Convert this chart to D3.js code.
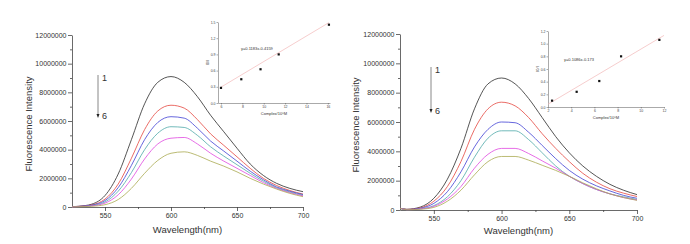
<!DOCTYPE html>
<html>
<head>
<meta charset="utf-8">
<script src="https://cdnjs.cloudflare.com/ajax/libs/d3/7.8.5/d3.min.js"></script>
<style>
  body { margin: 0; background: #fff; }
  svg { display: block; font-family: "Liberation Sans", Arial, sans-serif; }
</style>
</head>
<body>
<div id="viz"></div>
<script>
// wavelengths (nm) shared by every spectrum
const wavelengths = [525, 530, 540, 550, 560, 570, 580, 590, 600, 610, 620, 630, 640, 650, 660, 670, 680, 690, 700];

// left panel spectra, intensity in millions
const leftSpectra = [
  [0.02, 0.05, 0.2, 0.8, 2.3, 4.7, 7.2, 8.7, 9.1, 8.7, 7.7, 6.4, 5.25, 4.1, 3.0, 2.2, 1.65, 1.3, 1.07],
  [0.02, 0.04, 0.15, 0.55, 1.6, 3.4, 5.4, 6.7, 7.1, 6.9, 6.1, 5.1, 4.3, 3.5, 2.7, 2.0, 1.5, 1.15, 0.9],
  [0.02, 0.04, 0.13, 0.45, 1.35, 2.9, 4.7, 5.9, 6.3, 6.2, 5.5, 4.6, 3.9, 3.2, 2.5, 1.9, 1.4, 1.1, 0.87],
  [0.02, 0.03, 0.1, 0.35, 1.1, 2.4, 4.0, 5.15, 5.6, 5.55, 5.0, 4.2, 3.55, 2.95, 2.35, 1.8, 1.35, 1.05, 0.82],
  [0.01, 0.03, 0.08, 0.27, 0.85, 1.95, 3.35, 4.4, 4.8, 4.85, 4.4, 3.75, 3.2, 2.7, 2.2, 1.7, 1.3, 1.0, 0.78],
  [0.01, 0.02, 0.05, 0.16, 0.52, 1.3, 2.35, 3.25, 3.75, 3.85, 3.6, 3.2, 2.85, 2.45, 2.0, 1.6, 1.25, 0.95, 0.72]
];

// right panel spectra, intensity in millions
const rightSpectra = [
  [0.12, 0.05, 0.2, 0.8, 2.1, 4.2, 6.9, 8.6, 9.0, 8.6, 7.6, 6.3, 5.0, 3.9, 3.0, 2.3, 1.75, 1.35, 1.05],
  [0.12, 0.04, 0.15, 0.6, 1.6, 3.3, 5.5, 6.9, 7.35, 7.1, 6.3, 5.2, 4.2, 3.3, 2.5, 1.9, 1.45, 1.15, 0.92],
  [0.12, 0.03, 0.12, 0.45, 1.25, 2.6, 4.3, 5.5, 6.0, 5.95, 5.3, 4.4, 3.5, 2.7, 2.1, 1.65, 1.3, 1.0, 0.8],
  [0.12, 0.02, 0.08, 0.3, 0.9, 2.0, 3.6, 4.9, 5.4, 5.4, 4.8, 3.9, 3.0, 2.3, 1.8, 1.4, 1.1, 0.9, 0.72],
  [0.12, 0.02, 0.07, 0.25, 0.75, 1.6, 2.85, 3.8, 4.2, 4.2, 3.85, 3.35, 2.85, 2.3, 1.8, 1.4, 1.1, 0.85, 0.68],
  [0.12, 0.02, 0.05, 0.18, 0.6, 1.35, 2.4, 3.3, 3.65, 3.65, 3.4, 3.05, 2.7, 2.3, 1.85, 1.45, 1.1, 0.85, 0.66]
];

const seriesColors = ["#2a2a2a", "#e4463f", "#4040d4", "#4ea8a8", "#e048e0", "#aaaa50"];

const yTicks = [0, 2000000, 4000000, 6000000, 8000000, 10000000, 12000000];
const xTicks = [550, 600, 650, 700];

// Stern-Volmer insets
const leftInsetX = [6.0, 7.9, 9.7, 11.4, 16.1];
const leftInsetY = [0.28, 0.44, 0.625, 0.90, 1.45];
const leftFit = {slope: 0.1183, intercept: -0.4159, label: "y=0.1183x-0.4159"};
const leftInsetXTicks = [6, 8, 10, 12, 14, 16];
const leftInsetYTicks = [0.0, 0.3, 0.6, 0.9, 1.2, 1.5];

const rightInsetX = [2.35, 4.47, 6.42, 8.3, 11.6];
const rightInsetY = [0.10, 0.24, 0.41, 0.80, 1.06];
const rightFit = {slope: 0.1086, intercept: -0.173, label: "y=0.1086x-0.173"};
const rightInsetXTicks = [2, 4, 6, 8, 10, 12];
const rightInsetYTicks = [0.0, 0.2, 0.4, 0.6, 0.8, 1.0, 1.2];

const svg = d3.select("#viz")
  .append("svg")
    .attr("width", 690)
    .attr("height", 244);

function drawPanel(p) {
  const x = d3.scaleLinear().domain([525, 700]).range([p.left, p.right]);
  const y = d3.scaleLinear().domain([0, 12000000]).range([p.bottom, p.top]);
  const g = svg.append("g");

  // minor ticks
  const yMinor = d3.range(1000000, 12000000, 2000000);
  const xMinor = [575, 625, 675];

  const yAxis = g.append("g")
    .attr("transform", `translate(${p.left},0)`)
    .call(d3.axisLeft(y).tickValues(yTicks).tickSize(4).tickSizeOuter(0).tickPadding(1.5).tickFormat(d3.format("d")));
  g.append("g")
    .attr("transform", `translate(${p.left},0)`)
    .call(d3.axisLeft(y).tickValues(yMinor).tickSize(2).tickFormat(""))
    .select(".domain").remove();

  const xAxis = g.append("g")
    .attr("transform", `translate(0,${p.bottom})`)
    .call(d3.axisBottom(x).tickValues(xTicks).tickSize(4).tickSizeOuter(0).tickPadding(2));
  g.append("g")
    .attr("transform", `translate(0,${p.bottom})`)
    .call(d3.axisBottom(x).tickValues(xMinor).tickSize(2).tickFormat(""))
    .select(".domain").remove();

  g.selectAll(".domain, .tick line").attr("stroke", "#444").attr("stroke-width", 0.8);
  g.selectAll(".tick text").attr("fill", "#333").style("font-size", "7px");

  g.append("text")
    .attr("transform", `translate(${p.yTitleX},${(p.top + p.bottom) / 2 + 3}) rotate(-90)`)
    .attr("text-anchor", "middle")
    .attr("fill", "#333")
    .style("font-size", "9.5px")
    .text("Fluorescence Intensity");

  g.append("text")
    .attr("x", (p.left + p.right) / 2)
    .attr("y", p.xTitleY)
    .attr("text-anchor", "middle")
    .attr("fill", "#333")
    .style("font-size", "9.5px")
    .text("Wavelength(nm)");

  const line = d3.line()
    .x((d, i) => x(wavelengths[i]))
    .y(d => y(d * 1000000))
    .curve(d3.curveMonotoneX);

  g.selectAll("path.spec")
    .data(p.spectra)
    .join("path")
      .attr("class", "spec")
      .attr("d", line)
      .attr("fill", "none")
      .attr("stroke", (d, i) => seriesColors[i])
      .attr("stroke-width", 0.8);

  // arrow 1 -> 6
  g.append("line")
    .attr("x1", p.arrowX).attr("x2", p.arrowX)
    .attr("y1", p.arrowTop).attr("y2", p.arrowBottom - 2)
    .attr("stroke", "#888")
    .attr("stroke-width", 1);
  g.append("path")
    .attr("d", `M${p.arrowX - 1.5},${p.arrowBottom - 3}L${p.arrowX + 1.5},${p.arrowBottom - 3}L${p.arrowX},${p.arrowBottom + 1}Z`)
    .attr("fill", "#222");
  g.append("text")
    .attr("x", p.arrowX + 4).attr("y", p.arrowTop + 6)
    .attr("fill", "#333").style("font-size", "9px").text("1");
  g.append("text")
    .attr("x", p.arrowX + 4).attr("y", p.arrowBottom + 2)
    .attr("fill", "#333").style("font-size", "9px").text("6");

  drawInset(p.inset);
}

function drawInset(s) {
  const g = svg.append("g");
  const x = d3.scaleLinear().domain(s.xDomain).range([s.left, s.right]);
  const y = d3.scaleLinear().domain(s.yDomain).range([s.bottom, s.top]);

  g.append("g")
    .attr("transform", `translate(0,${s.bottom})`)
    .call(d3.axisBottom(x).tickValues(s.xTicks).tickSize(1.5).tickSizeOuter(0).tickPadding(1.5));
  g.append("g")
    .attr("transform", `translate(${s.left},0)`)
    .call(d3.axisLeft(y).tickValues(s.yTicks).tickSize(1.5).tickSizeOuter(0).tickPadding(1).tickFormat(d3.format(".1f")));

  g.selectAll(".domain, .tick line").attr("stroke", "#555").attr("stroke-width", 0.5);
  g.selectAll(".tick text").attr("fill", "#444").style("font-size", "3.5px");

  const x0 = s.fitFrom, x1 = s.fitTo;
  g.append("line")
    .attr("x1", x(x0)).attr("y1", y(s.fit.slope * x0 + s.fit.intercept))
    .attr("x2", x(x1)).attr("y2", y(s.fit.slope * x1 + s.fit.intercept))
    .attr("stroke", "#f2b8b8")
    .attr("stroke-width", 0.7);

  g.selectAll("rect.pt")
    .data(s.xs)
    .join("rect")
      .attr("class", "pt")
      .attr("x", d => x(d) - 1.1)
      .attr("y", (d, i) => y(s.ys[i]) - 1.1)
      .attr("width", 2.2)
      .attr("height", 2.2)
      .attr("fill", "#111");

  g.append("text")
    .attr("x", s.eqX).attr("y", s.eqY)
    .attr("fill", "#333").style("font-size", "4px")
    .text(s.fit.label);

  g.append("text")
    .attr("x", (s.left + s.right) / 2).attr("y", s.bottom + 12)
    .attr("text-anchor", "middle")
    .attr("fill", "#333").style("font-size", "4px")
    .text("Complex/10⁵M");

  g.append("text")
    .attr("transform", `translate(${s.left - 9},${(s.top + s.bottom) / 2}) rotate(-90)`)
    .attr("text-anchor", "middle")
    .attr("fill", "#333").style("font-size", "4px")
    .text("I0/I");
}

drawPanel({
  left: 72, right: 303, top: 35, bottom: 207,
  yTitleX: 32, xTitleY: 233,
  spectra: leftSpectra,
  arrowX: 98, arrowTop: 75, arrowBottom: 117,
  inset: {
    left: 218, right: 330, top: 22, bottom: 103,
    xDomain: [5.72, 16.2], yDomain: [0, 1.5],
    xTicks: leftInsetXTicks, yTicks: leftInsetYTicks,
    xs: leftInsetX, ys: leftInsetY, fit: leftFit,
    fitFrom: 6, fitTo: 16.1,
    eqX: 241, eqY: 50
  }
});

drawPanel({
  left: 400, right: 637, top: 34, bottom: 210,
  yTitleX: 359, xTitleY: 234,
  spectra: rightSpectra,
  arrowX: 431, arrowTop: 67, arrowBottom: 112,
  inset: {
    left: 548, right: 664, top: 31, bottom: 107,
    xDomain: [2, 12], yDomain: [0, 1.2],
    xTicks: rightInsetXTicks, yTicks: rightInsetYTicks,
    xs: rightInsetX, ys: rightInsetY, fit: rightFit,
    fitFrom: 2, fitTo: 12,
    eqX: 564, eqY: 61
  }
});
</script>
</body>
</html>
